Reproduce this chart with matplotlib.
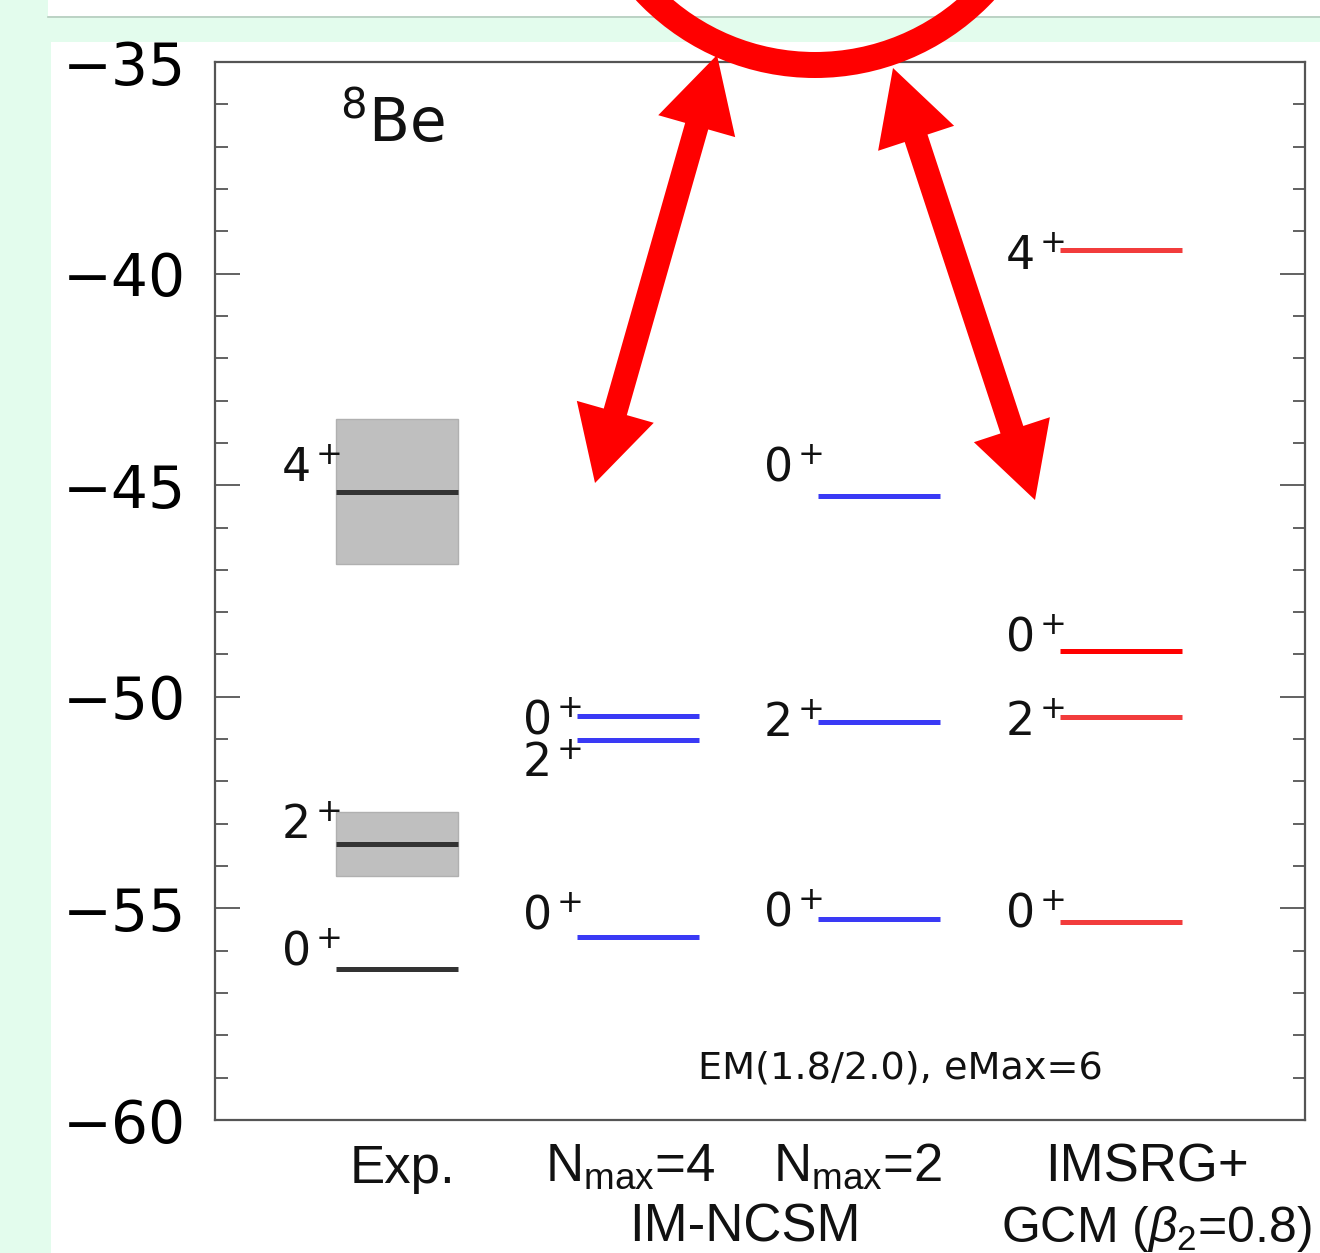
import matplotlib
matplotlib.use('Agg')
import numpy as np
import matplotlib.pyplot as plt
from matplotlib.patches import Rectangle, Circle, Polygon
from matplotlib.ticker import MultipleLocator

plt.rcParams['mathtext.fontset'] = 'dejavusans'
plt.rcParams['mathtext.rm'] = 'Liberation Sans'
plt.rcParams['mathtext.it'] = 'Liberation Sans:italic'

# ---------------- data ----------------
exp_labels = ['4', '2', '0']
exp_energy = [-45.17, -53.47, -56.44]
exp_label_y = [-44.92, -53.37, -56.36]
exp_box_top = [-43.43, -52.73]
exp_box_bottom = [-46.87, -54.24]

nmax4_labels = ['0', '2', '0']
nmax4_energy = [-50.45, -51.02, -55.67]
nmax4_label_y = [-50.89, -51.90, -55.49]

nmax2_labels = ['0', '2', '0']
nmax2_energy = [-45.26, -50.59, -55.24]
nmax2_label_y = [-44.92, -50.96, -55.42]

gcm_labels = ['4', '0', '2', '0']
gcm_energy = [-39.44, -48.91, -50.47, -55.31]
gcm_label_y = [-39.91, -48.93, -50.93, -55.44]

yticks = [-60, -55, -50, -45, -40, -35]
column_titles = ['Exp.', r'N$_{\mathrm{max}}$=4', r'N$_{\mathrm{max}}$=2', 'IMSRG+']
group_titles = ['IM-NCSM', r'GCM ($\beta_2$=0.8)']

# ---------------- layout ----------------
W, H, DPI = 1320, 1253, 100
GREEN = '#e3fced'
fig = plt.figure(figsize=(W / DPI, H / DPI), dpi=DPI, facecolor=GREEN)

bg = fig.add_axes([0, 0, 1, 1], zorder=0)
bg.set_xlim(0, W); bg.set_ylim(H, 0); bg.axis('off')
bg.add_patch(Rectangle((48, 0), W - 48, 16, facecolor='white', edgecolor='none'))
bg.plot([48, W], [17, 17], color='#b5cbbd', lw=1.2)
bg.add_patch(Rectangle((51, 42), W - 51, H - 42, facecolor='white', edgecolor='none'))

ax = fig.add_axes([215 / W, 1 - 1120 / H, (1305 - 215) / W, (1120 - 62) / H], zorder=1)
ax.patch.set_alpha(0)
ax.set_xlim(0, 10.9)
ax.set_ylim(-60, -35)

col_start = [1.21, 3.62, 6.03, 8.45]
col_width = 1.22

def draw_levels(ci, energies, labels, label_y, colors):
    x0 = col_start[ci]
    for e, lab, ly, c in zip(energies, labels, label_y, colors):
        ax.plot([x0, x0 + col_width], [e, e], color=c, lw=3.6, solid_capstyle='butt', zorder=3)
        ax.text(x0 + 0.05, ly, lab + '\u200a' + r'$^{+}$', ha='right', va='baseline',
                fontsize=33, color='#111111', math_fontfamily='dejavusans', zorder=4)

# Exp boxes
for top, bot in zip(exp_box_top, exp_box_bottom):
    ax.add_patch(Rectangle((col_start[0], bot), col_width, top - bot,
                           facecolor='#bfbfbf', edgecolor='#b0b0b0', lw=1, zorder=2))

draw_levels(0, exp_energy, exp_labels, exp_label_y, ['#333333'] * 3)
draw_levels(1, nmax4_energy, nmax4_labels, nmax4_label_y, ['#3a3af5'] * 3)
draw_levels(2, nmax2_energy, nmax2_labels, nmax2_label_y, ['#3a3af5'] * 3)
draw_levels(3, gcm_energy, gcm_labels, gcm_label_y, ['#f23c3c', '#ff0000', '#f23c3c', '#f23c3c'])

ax.text(1.25, -36.89, r'$^{8}$Be', fontsize=43, va='baseline', ha='left',
        math_fontfamily='dejavusans', color='#111111')
ax.text(4.83, -59.03, 'EM(1.8/2.0), eMax=6', fontsize=27.5, va='baseline', ha='left',
        color='#111111')

ax.set_yticks(yticks)
ax.yaxis.set_minor_locator(MultipleLocator(1))
ax.set_xticks([])
ax.tick_params(axis='y', which='both', direction='in', left=True, right=True,
               color='#555555', width=1.3)
ax.tick_params(axis='y', which='major', length=18, labelsize=42, pad=21)
ax.tick_params(axis='y', which='minor', length=9)
for sp in ax.spines.values():
    sp.set_color('#555555')
    sp.set_linewidth(1.6)

# ---------------- overlay (annotations) ----------------
ov = fig.add_axes([0, 0, 1, 1], zorder=3)
ov.set_xlim(0, W); ov.set_ylim(H, 0); ov.axis('off')
ov.patch.set_alpha(0)

RED = '#ff0000'
ov.add_patch(Circle((815, -167), 232, fill=False, edgecolor=RED, lw=26 * 72 / DPI))

def double_arrow(a, b, w=24, hl=74, hw=80):
    a = np.array(a, float); b = np.array(b, float)
    u = (b - a) / np.linalg.norm(b - a)
    n = np.array([-u[1], u[0]])
    pts = [a,
           a + u * hl + n * hw / 2, a + u * hl + n * w / 2,
           b - u * hl + n * w / 2, b - u * hl + n * hw / 2,
           b,
           b - u * hl - n * hw / 2, b - u * hl - n * w / 2,
           a + u * hl - n * w / 2, a + u * hl - n * hw / 2]
    ov.add_patch(Polygon(pts, closed=True, facecolor=RED, edgecolor='none'))

double_arrow((717, 55), (595, 483))
double_arrow((893, 68), (1035, 500))

tfont = dict(family='Liberation Sans', color='#111111', va='baseline',
             math_fontfamily='custom')
ov.text(403, 1183, column_titles[0], ha='center', fontsize=38, **tfont)
ov.text(630, 1181, column_titles[1], ha='center', fontsize=38, **tfont)
ov.text(858, 1181, column_titles[2], ha='center', fontsize=38, **tfont)
ov.text(1147, 1181, column_titles[3], ha='center', fontsize=38, **tfont)
ov.text(745, 1242, group_titles[0], ha='center', fontsize=38, **tfont)
ov.text(1001, 1242, group_titles[1], ha='left', fontsize=36, **tfont)

fig.savefig('out.png', dpi=DPI, facecolor=GREEN)
